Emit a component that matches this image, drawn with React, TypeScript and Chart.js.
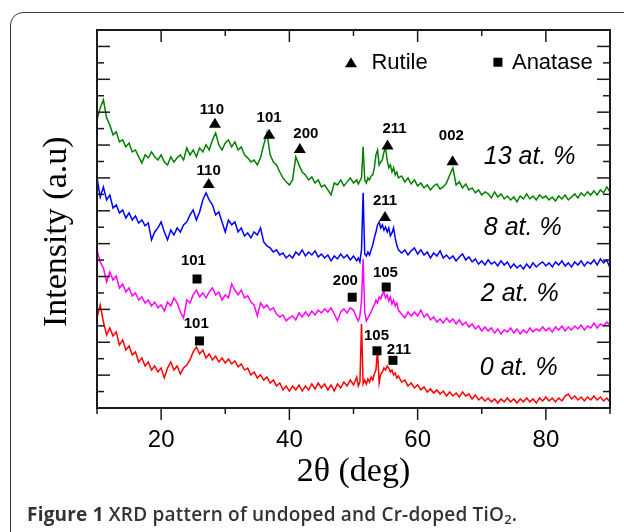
import React, { useEffect, useRef } from "react";
import { Chart, registerables } from "chart.js";

Chart.register(...registerables);

// 2θ grid (deg): 0.5° steps, finer 0.25° steps across the 50.75–57° region with sharp peaks
const angles: number[] = [];
for (let a = 10; a <= 50.5; a += 0.5) angles.push(a);
for (let a = 50.75; a <= 57.0001; a += 0.25) angles.push(a);
for (let a = 57.5; a <= 90.0001; a += 0.5) angles.push(a);

// Intensity (a.u., offset stacked)
const sample13: number[] = [
  17.53, 18.26, 18.75, 17.65, 17.22, 16.62, 16.8, 16.19, 16.31, 15.89,
  16.13, 15.58, 15.7, 15.28, 14.91, 15.4, 15.22, 15.58, 15.28, 15.09,
  15.4, 14.97, 14.79, 15.28, 14.97, 15.22, 15.4, 15.09, 15.82, 15.4,
  15.7, 15.28, 15.82, 15.58, 16.01, 15.7, 16.31, 16.74, 16.01, 15.7,
  16.13, 16.31, 15.89, 16.19, 15.7, 15.89, 15.4, 15.22, 14.97, 15.09,
  14.79, 15.22, 16.01, 16.74, 15.4, 14.97, 14.79, 14.36, 14.0, 13.76,
  13.57, 13.88, 15.28, 14.79, 14.36, 14.18, 13.88, 14.06, 13.69, 13.88,
  13.45, 13.57, 13.27, 12.96, 13.69, 13.57, 13.88, 13.51, 13.76, 14.0,
  13.69, 13.88,
  13.63, 13.82, 14.0, 15.89, 13.88, 13.69, 14.0, 13.88, 14.12, 14.18,
  14.61, 15.4, 15.7, 14.79, 14.97, 15.09, 15.58, 15.82, 15.09, 14.61,
  14.79, 14.36, 14.61, 14.18, 14.36, 14.0,
  14.12, 13.76, 14.0, 13.63, 13.88, 13.51,
  13.69, 13.39, 13.57, 13.27, 13.51, 13.63, 13.33, 13.45, 13.69, 14.18,
  14.61, 13.57, 13.76, 13.39, 13.63, 13.27, 13.39, 13.09, 13.27, 12.96,
  13.15, 13.03, 12.78, 13.15, 12.84, 13.03, 12.72, 12.9, 12.66, 12.84,
  12.54, 12.9, 12.72, 13.03, 12.72, 12.9, 12.66, 12.96, 12.78, 12.9,
  12.66, 12.84, 12.6, 12.9, 12.72, 12.96, 12.66, 12.84, 13.03, 12.78,
  13.09, 12.9, 13.15, 12.96, 13.21, 12.96, 13.27, 13.09, 13.45, 13.15,
];

const sample8: number[] = [
  14.0, 12.84, 13.45, 12.66, 12.96, 12.17, 12.36, 11.87, 12.05, 11.56,
  11.87, 11.44, 11.69, 11.26, 11.44, 11.08, 11.26, 10.23, 10.71, 10.96,
  11.32, 10.71, 10.23, 10.83, 10.53, 10.96, 10.71, 11.14, 11.32, 11.75,
  12.05, 11.44, 11.93, 12.66, 13.09, 12.66, 12.36, 11.75, 11.93, 11.32,
  10.71, 11.44, 11.14, 11.32, 10.71, 10.96, 10.47, 10.65, 10.35, 10.71,
  10.53, 10.96, 10.1, 9.86, 9.74, 9.49, 9.62, 9.31, 9.43, 9.13,
  9.31, 9.13, 9.49, 9.31, 9.62, 9.25, 9.49, 9.31, 9.56, 9.19,
  9.37, 9.13, 9.31, 8.95, 9.25, 9.07, 9.37, 9.13, 9.31, 9.01,
  9.25, 8.95,
  9.13, 8.89, 9.62, 13.09, 9.37, 9.25, 9.49, 9.31, 9.62, 9.92,
  10.35, 10.71, 11.14, 11.32, 10.96, 11.14, 10.83, 11.02, 10.71, 10.96,
  10.47, 10.65, 10.96, 10.35, 9.92, 9.62,
  9.43, 9.62, 9.31, 9.56, 9.74, 9.37,
  9.62, 9.31, 9.49, 9.13, 9.43, 9.25, 9.56, 9.13, 9.31, 9.07,
  9.25, 8.95, 9.19, 9.37, 9.01, 9.19, 8.89, 9.07, 8.76, 8.95,
  8.7, 9.01, 8.76, 8.89, 8.64, 8.95, 8.7, 8.89, 8.52, 8.76,
  8.52, 8.7, 8.46, 8.76, 8.52, 8.83, 8.58, 8.76, 8.89, 8.64,
  8.83, 8.58, 8.89, 8.7, 8.95, 8.64, 8.83, 8.58, 8.89, 8.7,
  8.95, 8.64, 8.89, 8.76, 9.01, 8.7, 9.07, 8.83, 9.01, 8.52,
];

const sample2: number[] = [
  9.62, 8.89, 8.52, 7.67, 8.28, 7.79, 8.03, 7.3, 7.55, 7.06,
  7.3, 6.82, 7.0, 6.57, 6.76, 6.39, 6.57, 6.21, 6.45, 6.09,
  6.27, 5.9, 6.45, 6.21, 6.7, 6.39, 5.84, 5.48, 6.57, 6.39,
  6.88, 7.18, 6.76, 7.0, 6.7, 7.06, 7.3, 6.88, 7.06, 6.57,
  6.88, 6.7, 7.55, 7.18, 6.88, 7.18, 6.7, 6.82, 6.45, 6.27,
  5.6, 6.39, 6.09, 6.27, 5.96, 6.09, 5.72, 5.54, 5.66, 5.3,
  5.48, 5.6, 5.36, 5.78, 5.54, 5.84, 5.6, 5.9, 5.66, 5.96,
  5.78, 6.03, 5.84, 6.09, 5.72, 5.3, 5.84, 6.03, 5.78, 6.09,
  5.96, 5.48,
  5.3, 5.6, 6.57, 9.07, 5.84, 5.3, 5.48, 5.66, 5.84, 6.09,
  6.27, 6.57, 6.39, 6.76, 6.63, 6.94, 7.06, 6.7, 6.88, 6.51,
  6.76, 6.33, 6.57, 6.21, 6.39, 5.96,
  5.72, 5.48, 5.84, 5.6, 5.84, 5.6,
  5.96, 5.54, 5.72, 5.36, 5.54, 5.23, 5.42, 5.17, 5.48, 5.23,
  5.42, 5.11, 5.36, 5.05, 5.23, 4.93, 5.11, 4.81, 4.99, 4.69,
  4.93, 4.69, 4.87, 4.56, 4.81, 4.5, 4.75, 4.63, 4.87, 4.56,
  4.81, 4.5, 4.75, 4.56, 4.87, 4.63, 4.81, 4.69, 4.93, 4.69,
  4.87, 4.63, 4.93, 4.75, 4.99, 4.69, 4.93, 4.75, 4.99, 4.81,
  5.05, 4.75, 4.99, 4.87, 5.17, 4.87, 5.11, 4.99, 5.23, 5.05,
];

const sample0: number[] = [
  5.48, 6.27, 5.23, 4.44, 4.87, 4.38, 4.63, 3.83, 4.14, 3.53,
  3.77, 3.23, 3.41, 2.8, 3.04, 2.56, 2.8, 2.31, 2.56, 2.19,
  2.43, 1.83, 2.43, 2.8, 2.31, 2.56, 2.07, 2.43, 2.62, 2.92,
  3.41, 3.71, 3.29, 3.53, 3.04, 3.29, 2.92, 3.16, 2.8, 3.04,
  2.74, 2.98, 2.68, 2.86, 2.5, 2.68, 2.31, 2.43, 2.01, 2.19,
  1.83, 2.01, 1.7, 1.89, 1.52, 1.7, 1.34, 1.52, 1.1, 1.34,
  1.03, 1.34, 1.1, 1.4, 1.03, 1.34, 1.1, 1.46, 1.16, 1.52,
  1.22, 1.46, 1.1, 1.4, 1.03, 1.46, 1.22, 1.58, 1.34, 1.7,
  1.4, 1.89,
  1.34, 1.58, 5.11, 1.46, 1.7, 1.46, 1.77, 1.58, 1.89, 1.7,
  2.07, 2.31, 3.53, 1.52, 2.07, 2.19, 2.43, 2.31, 2.56, 2.43,
  2.19, 2.31, 2.01, 2.13, 1.83, 1.95,
  1.58, 1.7, 1.34, 1.52, 1.22, 1.4,
  1.1, 1.28, 0.97, 1.16, 0.91, 1.1, 0.85, 1.03, 0.73, 0.97,
  0.73, 0.91, 0.67, 0.97, 0.73, 0.85, 0.55, 0.79, 0.49, 0.67,
  0.43, 0.61, 0.37, 0.55, 0.3, 0.55, 0.37, 0.61, 0.37, 0.55,
  0.3, 0.55, 0.37, 0.61, 0.37, 0.55, 0.3, 0.61, 0.43, 0.67,
  0.43, 0.61, 0.37, 0.61, 0.43, 0.73, 0.85, 0.55, 0.73, 0.49,
  0.67, 0.43, 0.67, 0.49, 0.73, 0.49, 0.67, 0.43, 0.61, 0.37,
];

const seriesNames = ["13 at. %", "8 at. %", "2 at. %", "0 at. %"];
const seriesColors = ["#008000", "#0000ff", "#ff00ff", "#ff0000"];
const seriesValues = [sample13, sample8, sample2, sample0];
const seriesLabelX = [70.33, 70.33, 69.86, 69.7];
const seriesLabelY = [15.24, 10.97, 6.96, 2.45];

const xMajorTicks = [20, 40, 60, 80];
const xMinorTicks = [10, 30, 50, 70, 90];
const yTickValues = Array.from({ length: 22 }, (_, i) => i + 1);

// Peak annotations: label position (lx, ly), marker position (mx, my) in data units
const peakText = ["110", "101", "200", "211", "002", "110", "211", "101", "200", "105", "101", "105", "211"];
const peakMark = ["tri", "tri", "tri", "tri", "tri", "tri", "tri", "sq", "sq", "sq", "sq", "sq", "sq"];
const peakLabelX = [27.92, 36.84, 42.57, 56.4, 65.26, 27.42, 54.91, 25.04, 48.73, 54.98, 25.48, 53.58, 57.09];
const peakLabelY = [18.14, 17.67, 16.68, 16.98, 16.58, 14.42, 12.62, 8.95, 7.73, 8.22, 5.09, 4.41, 3.52];
const peakMarkX = [28.39, 36.84, 41.63, 55.31, 65.45, 27.42, 54.91, 25.6, 49.8, 55.1, 25.98, 53.66, 56.15];
const peakMarkY = [17.36, 16.68, 15.82, 16.03, 15.08, 13.69, 11.69, 7.85, 6.74, 7.36, 4.08, 3.48, 2.9];

const legendText = ["Rutile", "Anatase"];
const legendMark = ["tri", "sq"];
const legendMarkX = [49.61, 72.52];
const legendTextX = [52.8, 74.71];
const legendY = 21.04;

const SANS = '"Liberation Sans", Arial, Helvetica, sans-serif';
const SERIF = '"Liberation Serif", "Times New Roman", Times, serif';

function drawMarker(ctx: CanvasRenderingContext2D, kind: string, cx: number, cy: number) {
  ctx.beginPath();
  if (kind === "tri") {
    ctx.moveTo(cx - 6, cy + 5);
    ctx.lineTo(cx + 6, cy + 5);
    ctx.lineTo(cx, cy - 5);
    ctx.closePath();
    ctx.fill();
  } else {
    ctx.fillRect(cx - 4.5, cy - 4.5, 9, 9);
  }
}

const decorPlugin = {
  id: "xrdDecor",
  afterDatasetsDraw(chart: any) {
    const { ctx, chartArea: a, scales } = chart;
    const x = scales.x;
    const y = scales.y;
    ctx.save();
    ctx.strokeStyle = "#1a1a1a";
    ctx.lineWidth = 2;
    ctx.strokeRect(a.left, a.top, a.right - a.left, a.bottom - a.top);

    ctx.lineWidth = 1.5;
    const seg = (x1: number, y1: number, x2: number, y2: number) => {
      ctx.beginPath();
      ctx.moveTo(x1, y1);
      ctx.lineTo(x2, y2);
      ctx.stroke();
    };
    yTickValues.forEach((v) => {
      const py = y.getPixelForValue(v);
      const len = v % 2 === 0 ? 13 : 7;
      seg(a.left, py, a.left + len, py);
      seg(a.right, py, a.right - len, py);
    });
    xMajorTicks.forEach((v) => {
      const px = x.getPixelForValue(v);
      seg(px, a.bottom, px, a.bottom + 12);
      seg(px, a.top, px, a.top + 12);
    });
    xMinorTicks.forEach((v) => {
      const px = x.getPixelForValue(v);
      seg(px, a.bottom, px, a.bottom + 6);
      if (v > 10 && v < 90) seg(px, a.top, px, a.top + 6);
    });

    ctx.fillStyle = "#000";
    ctx.textAlign = "center";
    ctx.textBaseline = "middle";
    ctx.font = `bold 15px ${SANS}`;
    peakText.forEach((t, i) => {
      ctx.fillText(t, x.getPixelForValue(peakLabelX[i]), y.getPixelForValue(peakLabelY[i]));
      drawMarker(ctx, peakMark[i], x.getPixelForValue(peakMarkX[i]), y.getPixelForValue(peakMarkY[i]));
    });

    ctx.textAlign = "left";
    ctx.font = `22px ${SANS}`;
    legendText.forEach((t, i) => {
      const py = y.getPixelForValue(legendY);
      drawMarker(ctx, legendMark[i], x.getPixelForValue(legendMarkX[i]), py);
      ctx.fillText(t, x.getPixelForValue(legendTextX[i]), py + 1);
    });

    ctx.font = `italic 25px ${SANS}`;
    seriesNames.forEach((t, i) => {
      ctx.fillText(t, x.getPixelForValue(seriesLabelX[i]), y.getPixelForValue(seriesLabelY[i]));
    });
    ctx.restore();
  },
};

export default function App() {
  const ref = useRef<HTMLCanvasElement | null>(null);

  useEffect(() => {
    if (!ref.current) return;
    const chart = new Chart(ref.current, {
      type: "line",
      data: {
        datasets: seriesValues.map((vals, i) => ({
          label: seriesNames[i],
          data: vals.map((v, j) => ({ x: angles[j], y: v })),
          borderColor: seriesColors[i],
          backgroundColor: seriesColors[i],
          borderWidth: 1.5,
          pointRadius: 0,
          tension: 0,
          fill: false,
        })),
      },
      options: {
        animation: false,
        responsive: false,
        maintainAspectRatio: false,
        layout: { padding: { left: 0, top: 30, right: 14, bottom: 0 } },
        plugins: { legend: { display: false }, tooltip: { enabled: false } },
        scales: {
          x: {
            type: "linear",
            min: 10,
            max: 90,
            afterBuildTicks: (s: any) => {
              s.ticks = xMajorTicks.map((v) => ({ value: v }));
            },
            afterFit: (s: any) => {
              s.height = 124;
            },
            ticks: {
              autoSkip: false,
              maxRotation: 0,
              padding: 18,
              color: "#000",
              font: { family: SANS, size: 24 },
              callback: (v: any) => String(v),
            },
            grid: { display: false, drawTicks: false },
            border: { display: false },
            title: {
              display: true,
              text: "2θ (deg)",
              color: "#000",
              font: { family: SERIF, size: 34 },
              padding: { top: 0, bottom: 40 },
            },
          },
          y: {
            type: "linear",
            min: 0,
            max: 23,
            afterFit: (s: any) => {
              s.width = 97;
            },
            ticks: { display: false },
            grid: { display: false, drawTicks: false },
            border: { display: false },
            title: {
              display: true,
              text: "Intensity (a.u)   ",
              color: "#000",
              font: { family: SERIF, size: 34 },
              padding: { top: 37, bottom: 0 },
            },
          },
        },
      },
      plugins: [decorPlugin],
    } as any);
    return () => chart.destroy();
  }, []);

  return (
    <div
      style={{
        position: "fixed",
        left: 0,
        top: 0,
        width: 624,
        height: 532,
        overflow: "hidden",
        background: "#fff",
      }}
    >
      <div
        style={{
          position: "absolute",
          left: 10,
          top: 12,
          width: 660,
          height: 580,
          border: "1.5px solid #3a3a3a",
          borderRadius: 13,
        }}
      />
      <canvas
        ref={ref}
        width={624}
        height={532}
        style={{ position: "absolute", left: 0, top: 0, width: 624, height: 532 }}
      />
      <div
        style={{
          position: "absolute",
          left: 27,
          top: 503,
          fontFamily: '"Open Sans", "Noto Sans", sans-serif',
          fontSize: 19,
          fontWeight: 600,
          letterSpacing: "0.2px",
          color: "#333",
          whiteSpace: "nowrap",
          lineHeight: "22px",
        }}
      >
        <span style={{ fontWeight: 700 }}>Figure 1</span> XRD pattern of undoped and Cr-doped TiO
        <sub style={{ fontSize: 13, verticalAlign: "-3px" }}>2</sub>.
      </div>
    </div>
  );
}
